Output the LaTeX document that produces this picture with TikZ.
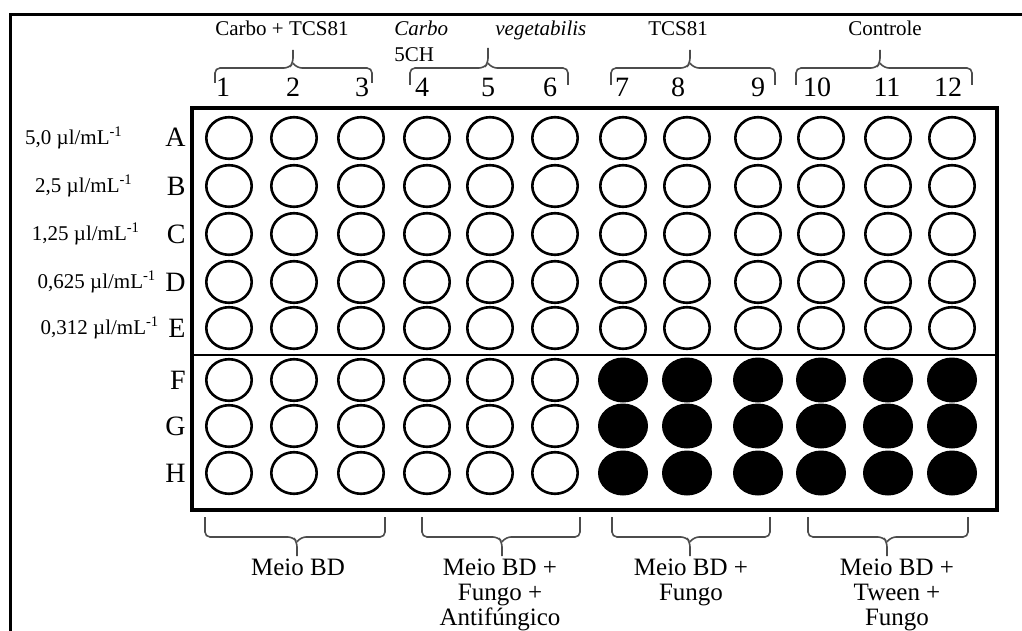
\documentclass[tikz,border=0pt]{standalone}
\usepackage{fontspec}
\setmainfont{Liberation Serif}
\usetikzlibrary{shapes.geometric}

\begin{document}
\begin{tikzpicture}[x=0.5pt, y=-0.5pt,
    well/.style={ellipse, draw, line width=1.3pt, minimum width=22.7pt, minimum height=20.8pt, inner sep=0pt},
    spot/.style={ellipse, fill=black, minimum width=25pt, minimum height=22.5pt, inner sep=0pt},
    bracket/.style={draw=black!70, line width=0.8pt, rounded corners=2.5pt},
    grplbl/.style={font=\fontsize{10.5}{12}\selectfont, inner sep=0pt},
    colnum/.style={font=\fontsize{14}{15}\selectfont, anchor=base, inner sep=0pt},
    rowlbl/.style={font=\fontsize{14}{15}\selectfont, anchor=base east, inner sep=0pt},
    conc/.style={font=\fontsize{10.5}{12}\selectfont, anchor=base, inner sep=0pt},
    medium/.style={font=\fontsize{12.5}{12.5}\selectfont, align=center, anchor=north, inner sep=0pt}]
  \useasboundingbox (0,0) rectangle (1022,631);

  % Frame and plate
  \draw[line width=1.5pt] (10,631) -- (10,15) -- (1022,15);
  \draw[line width=1.6pt] (192,108) rectangle (997,510);
  \draw[line width=1.1pt] (192,355) -- (997,355);

  % Wells
  \foreach \c/\x in {1/229,2/294,3/361,4/427,5/490,6/555,7/623,8/687,9/758,10/821,11/888,12/952} {
    \foreach \r/\y/\f in {A/138/0,B/186/0,C/234/0,D/282/0,E/328/0,F/380/1,G/426/1,H/473/1} {
      \pgfmathtruncatemacro\dark{(\c>6)*\f}
      \ifnum\dark=1
        \node[spot] (w\r\c) at (\x,\y) {};
      \else
        \node[well] (w\r\c) at (\x,\y) {};
      \fi
    }
  }

  % Row letters
  \foreach \r/\y in {A/138,B/186,C/234,D/282,E/328,F/380,G/426,H/473}
    \node[rowlbl] (row\r) at (186,\y+9) {\r};

  % Concentrations
  \node[conc] (concA) at (74,144) {5,0 µl/mL\textsuperscript{-1}};
  \node[conc] (concB) at (84,192) {2,5 µl/mL\textsuperscript{-1}};
  \node[conc] (concC) at (86,240) {1,25 µl/mL\textsuperscript{-1}};
  \node[conc] (concD) at (97,288) {0,625 µl/mL\textsuperscript{-1}};
  \node[conc] (concE) at (100,334) {0,312 µl/mL\textsuperscript{-1}};

  % Column numbers
  \foreach \c/\x in {1/223,2/293,3/362,4/422,5/488,6/550,7/622,8/678,9/758,10/817,11/887,12/948}
    \node[colnum] (col\c) at (\x,97) {\c};

  % Treatments (top)
  \node[grplbl, anchor=base] (grpCT) at (282,36) {Carbo + TCS81};
  \node[grplbl, anchor=base west] (grpCarbo) at (394,36) {\itshape Carbo};
  \node[grplbl, anchor=base west] (grpCH) at (394,62) {5CH};
  \node[grplbl, anchor=base west] (grpVeg) at (495,36) {\itshape vegetabilis};
  \node[grplbl, anchor=base] (grpTCS) at (678,36) {TCS81};
  \node[grplbl, anchor=base] (grpCtrl) at (885,36) {Controle};

  \draw[bracket] (215,83) -- (215,68) -- (289,68) -- (293,63) -- (293,50);
  \draw[bracket] (372,83) -- (372,68) -- (297,68) -- (293,63);
  \draw[bracket] (410,85) -- (410,68) -- (484,68) -- (488,63) -- (488,48);
  \draw[bracket] (568,85) -- (568,68) -- (492,68) -- (488,63);
  \draw[bracket] (611,85) -- (611,68) -- (686,68) -- (690,63) -- (690,50);
  \draw[bracket] (775,85) -- (775,68) -- (694,68) -- (690,63);
  \draw[bracket] (796,85) -- (796,68) -- (876,68) -- (880,63) -- (880,50);
  \draw[bracket] (972,85) -- (972,68) -- (884,68) -- (880,63);

  % Media (bottom)
  \draw[bracket] (205,517) -- (205,537) -- (293,537) -- (297,542) -- (297,556);
  \draw[bracket] (385,517) -- (385,537) -- (301,537) -- (297,542);
  \draw[bracket] (422,517) -- (422,537) -- (498,537) -- (502,542) -- (502,556);
  \draw[bracket] (580,517) -- (580,537) -- (506,537) -- (502,542);
  \draw[bracket] (612,517) -- (612,537) -- (686,537) -- (690,542) -- (690,556);
  \draw[bracket] (770,517) -- (770,537) -- (694,537) -- (690,542);
  \draw[bracket] (808,517) -- (808,537) -- (883,537) -- (887,542) -- (887,556);
  \draw[bracket] (968,517) -- (968,537) -- (891,537) -- (887,542);

  \node[medium] (medBD) at (298,559) {Meio BD};
  \node[medium] (medAnti) at (500,559) {Meio BD +\\Fungo +\\Antifúngico};
  \node[medium] (medFungo) at (691,559) {Meio BD +\\Fungo};
  \node[medium] (medTween) at (897,559) {Meio BD +\\Tween +\\Fungo};
\end{tikzpicture}
\end{document}
